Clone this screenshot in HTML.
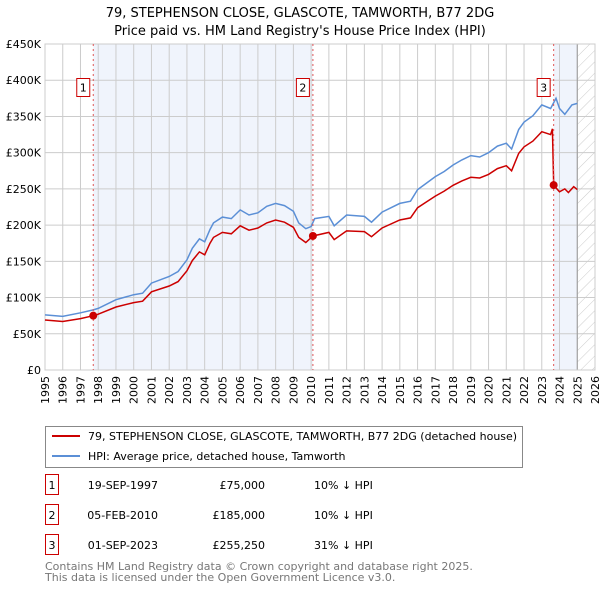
<!DOCTYPE html>
<html><head><meta charset="utf-8"><style>
body{margin:0;background:#fff;font-family:"Liberation Sans","DejaVu Sans",sans-serif;}
svg{display:block}
</style></head><body>
<svg id="chart" width="600" height="590" viewBox="0 0 600 590" xmlns="http://www.w3.org/2000/svg" font-family="'DejaVu Sans','Liberation Sans',sans-serif">
<defs><pattern id="hatch" width="8" height="8" patternUnits="userSpaceOnUse" patternTransform="rotate(45)"><line x1="0" y1="0" x2="0" y2="8" stroke="#ccc" stroke-width="1"/></pattern></defs>
<text x="300" y="17" text-anchor="middle" font-size="13">79, STEPHENSON CLOSE, GLASCOTE, TAMWORTH, B77 2DG</text>
<text x="300" y="35" text-anchor="middle" font-size="13">Price paid vs. HM Land Registry's House Price Index (HPI)</text>
<g id="shade"></g><g id="grid"></g><g id="ylab"></g><g id="xlab"></g><g id="lines"></g><g id="marks"></g>
<g>
<rect x="45.5" y="426.5" width="477" height="41" fill="#fff" stroke="#888"/>
<line x1="52" y1="436" x2="80" y2="436" stroke="#cc0000" stroke-width="2"/>
<text x="88" y="440" font-size="11">79, STEPHENSON CLOSE, GLASCOTE, TAMWORTH, B77 2DG (detached house)</text>
<line x1="52" y1="456" x2="80" y2="456" stroke="#5b8fd6" stroke-width="2"/>
<text x="88" y="460" font-size="11">HPI: Average price, detached house, Tamworth</text>
</g>
<g id="table" font-size="11"></g>
<text x="45" y="570" font-size="11" fill="#777">Contains HM Land Registry data © Crown copyright and database right 2025.</text>
<text x="45" y="581" font-size="11" fill="#777">This data is licensed under the Open Government Licence v3.0.</text>
</svg>
<script>
const hpiYears=[1995,1996,1997,1997.72,1998,1999,2000,2000.5,2001,2002,2002.5,2003,2003.3,2003.7,2004,2004.3,2004.5,2005,2005.5,2006,2006.5,2007,2007.5,2008,2008.5,2009,2009.3,2009.7,2010,2010.2,2011,2011.3,2012,2013,2013.4,2014,2015,2015.6,2016,2016.5,2017,2017.5,2018,2018.5,2019,2019.5,2020,2020.5,2021,2021.3,2021.7,2022,2022.5,2023,2023.5,2023.8,2024,2024.3,2024.7,2025];
const hpiValues=[76,74,79,83,85,97,104,106,120,129,136,152,168,181,177,194,203,211,209,221,214,217,226,230,227,219,203,195,198,209,212,199,214,212,204,218,230,233,249,258,267,274,283,290,296,294,300,309,313,305,332,342,351,366,361,375,361,353,366,368];
const priceYears=[1995,1996,1997,1997.72,1998,1999,2000,2000.5,2001,2002,2002.5,2003,2003.3,2003.7,2004,2004.3,2004.5,2005,2005.5,2006,2006.5,2007,2007.5,2008,2008.5,2009,2009.3,2009.7,2010.1,2011,2011.3,2012,2013,2013.4,2014,2015,2015.6,2016,2016.5,2017,2017.5,2018,2018.5,2019,2019.5,2020,2020.5,2021,2021.3,2021.7,2022,2022.5,2023,2023.5,2023.6,2023.67,2024,2024.3,2024.5,2024.8,2025];
const priceValues=[69,67,71,75,77,87,93,95,108,116,122,137,151,163,159,175,183,190,188,199,193,196,203,207,204,197,183,176,185,190,180,192,191,184,196,207,210,224,232,240,247,255,261,266,265,270,278,282,275,299,308,316,329,325,333,255,246,250,245,253,249];
const saleYears=[1997.72,2010.1,2023.67];
const saleValues=[75,185,255.25];
const saleLabels=["1","2","3"];
const saleDates=["19-SEP-1997","05-FEB-2010","01-SEP-2023"];
const salePrices=["£75,000","£185,000","£255,250"];
const saleDiffs=["10% ↓ HPI","10% ↓ HPI","31% ↓ HPI"];
const yTicks=[0,50,100,150,200,250,300,350,400,450];
const yTickLabels=["£0","£50K","£100K","£150K","£200K","£250K","£300K","£350K","£400K","£450K"];
const xTicks=[1995,1996,1997,1998,1999,2000,2001,2002,2003,2004,2005,2006,2007,2008,2009,2010,2011,2012,2013,2014,2015,2016,2017,2018,2019,2020,2021,2022,2023,2024,2025,2026];

const NS="http://www.w3.org/2000/svg";
const X0=45,X1=595,Y0=370,Y1=44;
const xs=y=>X0+(y-1995)/(2026-1995)*(X1-X0);
const ys=v=>Y0-v/450*(Y0-Y1);
function mk(tag,attrs,parent){const e=document.createElementNS(NS,tag);for(const k in attrs)e.setAttribute(k,attrs[k]);parent.appendChild(e);return e;}
const g=id=>document.getElementById(id);

let r=mk('rect',{x:X0,y:Y1,width:X1-X0,height:Y0-Y1,fill:'#fff'},g('shade'));


r=mk('rect',{x:xs(saleYears[0]),y:Y1,width:xs(saleYears[1])-xs(saleYears[0]),height:Y0-Y1,fill:'#f0f4fc'},g('shade'));


r=mk('rect',{x:xs(saleYears[2]),y:Y1,width:xs(2025)-xs(saleYears[2]),height:Y0-Y1,fill:'#f0f4fc'},g('shade'));


r=mk('rect',{x:xs(2025),y:Y1,width:X1-xs(2025),height:Y0-Y1,fill:'url(#hatch)'},g('shade'));



yTicks.forEach((t,i)=>{
 const l=mk('line',{x1:X0,x2:X1,y1:ys(t),y2:ys(t),stroke:'#ccc','stroke-width':1},g('grid'));
 
 
 const tx=mk('text',{x:X0-4,y:ys(t)+4,'text-anchor':'end','font-size':11},g('ylab'));
 tx.textContent=yTickLabels[i];
 
 
});
xTicks.forEach((t,i)=>{
 const l=mk('line',{x1:xs(t),x2:xs(t),y1:Y1,y2:Y0,stroke:'#ccc','stroke-width':1},g('grid'));
 
 
 const tx=mk('text',{x:xs(t),y:0,'text-anchor':'end','font-size':11,transform:`translate(${xs(t)+4},376) rotate(-90)`},g('xlab'));
 tx.setAttribute('x',0);
 tx.textContent=String(t);
 
 
});
mk('line',{x1:xs(2025),x2:xs(2025),y1:Y1,y2:Y0,stroke:'#999','stroke-width':1},g('grid'));
let bd=mk('rect',{x:X0,y:Y1,width:X1-X0,height:Y0-Y1,fill:'none',stroke:'#ccc'},g('grid'));



const path=(xa,va)=>xa.map((x,i)=>(i?'L':'M')+xs(x).toFixed(1)+','+ys(va[i]).toFixed(1)).join('');
let p=mk('path',{d:path(hpiYears,hpiValues),fill:'none',stroke:'#5b8fd6','stroke-width':1.5},g('lines'));


p=mk('path',{d:path(priceYears,priceValues),fill:'none',stroke:'#cc0000','stroke-width':1.5},g('lines'));



saleYears.forEach((y,i)=>{
 const l=mk('line',{x1:xs(y),x2:xs(y),y1:Y1,y2:Y0,stroke:'#e05555','stroke-width':1,'stroke-dasharray':'2,3'},g('marks'));
 
 
 const c=mk('circle',{cx:xs(y),cy:ys(saleValues[i]),r:4,fill:'#cc0000'},g('marks'));
 
 
 const b=mk('rect',{x:xs(y)-16.5,y:78.5,width:13,height:18,fill:'#fff',stroke:'#cc0000'},g('marks'));
 
 
 const t=mk('text',{x:xs(y)-10,y:91.5,'text-anchor':'middle','font-size':11},g('marks'));
 t.textContent=saleLabels[i];
 
 
 const ry=474+i*30;
 const tb=mk('rect',{x:45.5,y:ry+0.5,width:13,height:20,fill:'#fff',stroke:'#cc0000'},g('table'));
 
 
 const tn=mk('text',{x:52,y:ry+15,'text-anchor':'middle'},g('table'));
 tn.textContent=saleLabels[i];
 
 
 const td=mk('text',{x:158,y:ry+15,'text-anchor':'end'},g('table'));
 td.textContent=saleDates[i];
 
 
 const tp=mk('text',{x:265,y:ry+15,'text-anchor':'end'},g('table'));
 tp.textContent=salePrices[i];
 
 
 const tdf=mk('text',{x:314,y:ry+15},g('table'));
 tdf.textContent=saleDiffs[i];
 
 
});
</script>
</body></html>
